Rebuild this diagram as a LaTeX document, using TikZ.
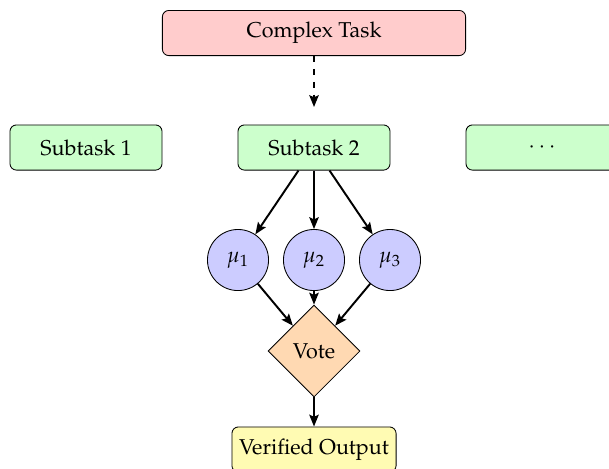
\documentclass[tikz,border=0pt]{standalone}
\usepackage[T1]{fontenc}
\usepackage{mathpazo}
\usetikzlibrary{shapes.geometric,arrows.meta}
\begin{document}
\begin{tikzpicture}[x=0.465pt,y=-0.465pt,
  taskbox/.style={draw, rounded corners=3pt, minimum width=70.7pt, minimum height=21pt},
  rootbox/.style={taskbox, fill=red!20, minimum width=141pt},
  subbox/.style={taskbox, fill=green!20},
  outbox/.style={taskbox, fill=yellow!30},
  agent/.style={draw, circle, fill=blue!20, minimum size=28.4pt, inner sep=0pt},
  voter/.style={draw, diamond, fill=orange!30, minimum size=42.8pt, inner sep=1pt},
  flow/.style={-{Stealth[length=5.5pt,width=4.4pt,inset=1pt]}, line width=0.9pt}
]
\useasboundingbox (0,0) rectangle (609,468);

% task decomposition
\node[rootbox] (root) at (314,33) {Complex Task};
\coordinate (split) at (314,107);
\node[subbox] (s1) at (86,147.5) {Subtask 1};
\node[subbox] (s2) at (314,147.5) {Subtask 2};
\node[subbox] (s3) at (542,147.5) {$\cdots$};

% parallel samples and voting
\node[agent] (m1) at (238,260) {$\mu_1$};
\node[agent] (m2) at (314,260) {$\mu_2$};
\node[agent] (m3) at (390,260) {$\mu_3$};
\node[voter] (vote) at (314,351) {Vote};
\node[outbox] (out) at (314,449.5) {Verified Output};

\draw[flow, dashed] (root) -- (split);
\foreach \m in {m1,m2,m3} {
  \draw[flow] (s2) -- (\m);
  \draw[flow] (\m) -- (vote);
}
\draw[flow] (vote) -- (out);
\end{tikzpicture}
\end{document}
